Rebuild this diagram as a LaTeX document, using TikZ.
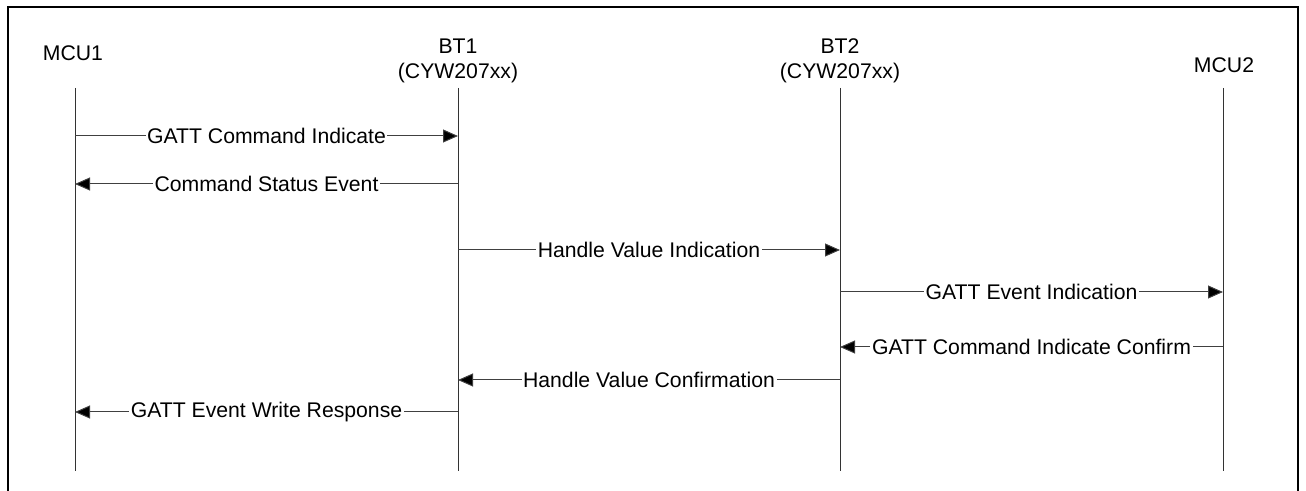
\documentclass[tikz,border=0pt]{standalone}
\usepackage{fontspec}
\setmainfont{Liberation Sans}
\usetikzlibrary{arrows.meta}
\begin{document}
\begin{tikzpicture}[x=0.5pt,y=-0.5pt,
  every node/.style={font=\fontsize{10.6pt}{12.5pt}\selectfont},
  lifeline/.style={draw=black!80, line width=0.5pt},
  msg/.style={draw=black!75, line width=0.5pt, -{Triangle[length=7.5pt,width=6.5pt,fill=black]}},
  msglabel/.style={fill=white, inner xsep=0.8pt, inner ysep=1pt},
  head/.style={align=center, inner sep=0pt}]
\useasboundingbox (0,0) rectangle (1306,491);
\clip (0,0) rectangle (1306,491);
\draw[line width=1pt] (8,7) rectangle (1298,530);
% headers
\node[head] (h1) at (73,53) {MCU1};
\node[head] (h2) at (458,61) {BT1\\(CYW207xx)};
\node[head] (h3) at (840,61) {BT2\\(CYW207xx)};
\node[head] (h4) at (1224,65) {MCU2};
% lifelines
\coordinate (a0) at (75,88);  \coordinate (a1) at (75,471);
\coordinate (b0) at (458,88); \coordinate (b1) at (458,471);
\coordinate (c0) at (840,88); \coordinate (c1) at (840,471);
\coordinate (d0) at (1223,88); \coordinate (d1) at (1223,471);
\draw[lifeline] (a0) -- (a1);
\draw[lifeline] (b0) -- (b1);
\draw[lifeline] (c0) -- (c1);
\draw[lifeline] (d0) -- (d1);
% message end points
\coordinate (m1a) at (75,136);  \coordinate (m1b) at (458,136);
\coordinate (m2a) at (458,184); \coordinate (m2b) at (75,184);
\coordinate (m3a) at (458,250); \coordinate (m3b) at (840,250);
\coordinate (m4a) at (840,292); \coordinate (m4b) at (1223,292);
\coordinate (m5a) at (1223,347); \coordinate (m5b) at (840,347);
\coordinate (m6a) at (840,380); \coordinate (m6b) at (458,380);
\coordinate (m7a) at (458,412); \coordinate (m7b) at (75,412);
\draw[msg] (m1a) -- node[msglabel] (l1) {GATT Command Indicate} (m1b);
\draw[msg] (m2a) -- node[msglabel] (l2) {Command Status Event} (m2b);
\draw[msg] (m3a) -- node[msglabel] (l3) {Handle Value Indication} (m3b);
\draw[msg] (m4a) -- node[msglabel] (l4) {GATT Event Indication} (m4b);
\draw[msg] (m5a) -- node[msglabel] (l5) {GATT Command Indicate Confirm} (m5b);
\draw[msg] (m6a) -- node[msglabel] (l6) {Handle Value Confirmation} (m6b);
\draw[msg] (m7a) -- node[msglabel] (l7) {GATT Event Write Response} (m7b);
\end{tikzpicture}
\end{document}
